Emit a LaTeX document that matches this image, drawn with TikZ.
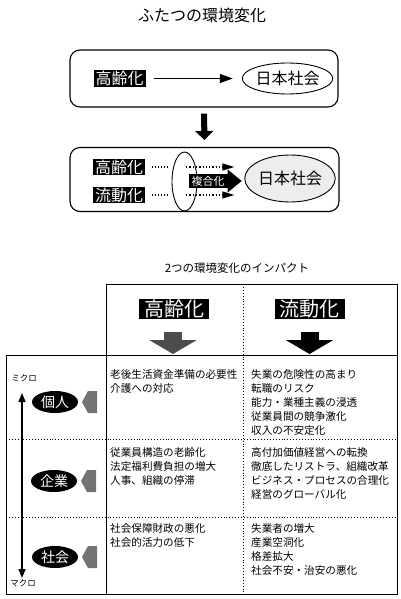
\documentclass[tikz,border=0pt]{standalone}
\usepackage{fontspec}
\setmainfont{Noto Sans CJK JP}
\usetikzlibrary{shapes.geometric,arrows.meta}
\tikzset{
  rbox/.style={draw, line width=1.1pt, rounded corners=10pt},
  blk/.style={fill=black, text=white, inner xsep=2pt, inner ysep=1pt, font=\fontsize{16}{16}\selectfont},
  oval/.style={draw, ellipse, line width=0.9pt, inner sep=0pt, font=\fontsize{16}{16}\selectfont},
  cell/.style={anchor=north west, inner sep=0pt, align=left, font=\fontsize{10.6}{14}\selectfont},
  tline/.style={line width=0.9pt},
  dline/.style={line width=0.9pt, dotted},
  dotarrow/.style={line width=1.3pt, dotted, -{Triangle[length=12pt,width=7pt]}},
  blob/.style={ellipse, fill=black, text=white, inner sep=0pt, minimum width=46pt, minimum height=22pt, font=\fontsize{14}{14}\selectfont},
  larrow/.style={fill=black!55},
  hdr/.style={fill=black, text=white, inner xsep=5pt, inner ysep=1pt, font=\fontsize{20}{20}\selectfont},
  small/.style={font=\fontsize{8.5}{8.5}\selectfont},
}
\begin{document}
\begin{tikzpicture}[x=1pt,y=-1pt]
\useasboundingbox (0,0) rectangle (400,599);

% title
\node[font=\fontsize{16}{16}\selectfont] (title) at (202,15) {ふたつの環境変化};

% box 1
\node[rbox, minimum width=268pt, minimum height=57pt] (box1) at (204,78.5) {};
\node[blk] (k0) at (119.5,78.5) {高齢化};
\node[oval, minimum width=81pt, minimum height=31pt] (n0) at (287.5,78.5) {日本社会};
\draw[line width=1.2pt, -{Triangle[length=13pt,width=9pt]}, shorten <=8pt, shorten >=9pt] (k0) -- (n0);

% box 2
\node[rbox, minimum width=269pt, minimum height=64pt] (box2) at (204.5,179.5) {};
\draw[line width=6pt, -{Triangle[length=9pt,width=18pt]}, shorten <=6pt, shorten >=7pt] (box1.south) -- (box2.north);
\node[blk] (k1) at (119,167) {高齢化};
\node[blk] (r1) at (119,195) {流動化};
\node[oval, minimum width=25pt, minimum height=59pt] (mix) at (184.5,181.5) {};
\node[oval, fill=black!7, minimum width=84pt, minimum height=47pt] (n1) at (290,178.5) {日本社会};
\draw[dline, line width=1.3pt, shorten <=7pt, shorten >=4pt] (k1.east) -- (k1.east -| mix.west);
\draw[dline, line width=1.3pt, shorten <=7pt, shorten >=4pt] (r1.east) -- (r1.east -| mix.west);
\draw[dotarrow, shorten <=1.5pt, shorten >=10pt] (mix.center |- k1.east) -- (n1.west |- k1.east);
\draw[dotarrow, shorten <=1.5pt, shorten >=10pt] (mix.center |- r1.east) -- (n1.west |- r1.east);
\node[fill=black, text=white, inner xsep=3pt, inner ysep=1.5pt, font=\fontsize{11}{11}\selectfont] (fk) at (208,181) {複合化};
\fill ([yshift=11.5pt]fk.east) -- ([xshift=14pt]fk.east) -- ([yshift=-11.5pt]fk.east) -- cycle;

% section 2
\node[font=\fontsize{11.5}{11.5}\selectfont] (t2) at (237,268) {2つの環境変化のインパクト};

\draw[tline] (106,284) rectangle (397,355);
\draw[tline] (6,355) rectangle (397,594);
\draw[tline] (106,355) -- (106,594);
\draw[dline] (243,284) -- (243,594);
\draw[dline] (6,439) -- (397,439);
\draw[dline] (6,517) -- (397,517);

\coordinate (rowtop) at (200,355);
\node[hdr] (hk) at (174,309) {高齢化};
\node[hdr] (hr) at (309.5,309) {流動化};
\draw[line width=18pt, draw=black!70, -{Triangle[length=14pt,width=47pt]}, shorten <=13pt, shorten >=1pt] ([xshift=-1pt]hk.south) -- ([xshift=-1pt]hk.south |- rowtop);
\draw[line width=18pt, -{Triangle[length=14pt,width=47pt]}, shorten <=13pt, shorten >=1pt] (hr.south) -- (hr.south |- rowtop);

% left column
\node[small] (mic) at (24,378) {ミクロ};
\node[small] (mac) at (23,583) {マクロ};
\coordinate (atop) at (22,393);
\coordinate (abot) at (22,578);
\draw[line width=1.3pt, {Triangle[length=9pt,width=7pt]}-{Triangle[length=9pt,width=7pt]}] (atop) -- (abot);

\node[blob] (ind) at (55,402) {個人};
\node[blob] (ent) at (54,481) {企業};
\node[blob] (soc) at (55,557) {社会};
\foreach \n in {ind,ent,soc}{
  \begin{scope}[shift={(\n.center)}]
    \fill[larrow] (42,-11) -- (33,-11) -- (27,0) -- (33,11) -- (42,11) -- cycle;
  \end{scope}
}

% cells
\node[cell] (c11) at (110,369) {老後生活資金準備の必要性\\介護への対応};
\node[cell] (c12) at (251,369) {失業の危険性の高まり\\転職のリスク\\能力・業種主義の浸透\\従業員間の競争激化\\収入の不安定化};
\node[cell] (c21) at (110,447) {従業員構造の老齢化\\法定福利費負担の増大\\人事、組織の停滞};
\node[cell] (c22) at (251,447) {高付加価値経営への転換\\徹底したリストラ、組織改革\\ビジネス・プロセスの合理化\\経営のグローバル化};
\node[cell] (c31) at (110,523) {社会保障財政の悪化\\社会的活力の低下};
\node[cell] (c32) at (251,523) {失業者の増大\\産業空洞化\\格差拡大\\社会不安・治安の悪化};
\end{tikzpicture}
\end{document}
